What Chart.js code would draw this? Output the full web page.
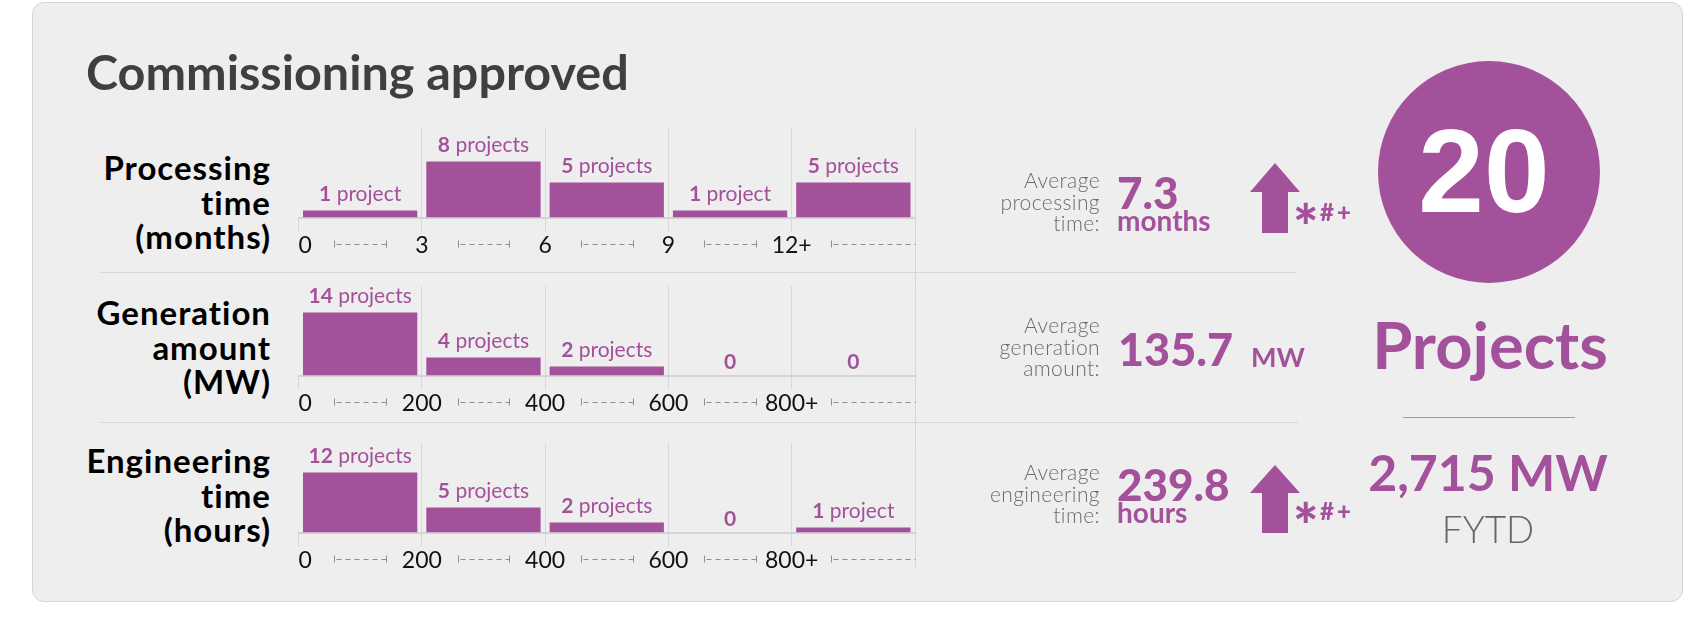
<!DOCTYPE html>
<html>
<head>
<meta charset="utf-8">
<script src="https://cdn.jsdelivr.net/npm/chart.js@4.4.1/dist/chart.umd.min.js"></script>
<style>
  html, body { margin: 0; padding: 0; background: #fff; }
  body { width: 1689px; height: 619px; position: relative; overflow: hidden; font-family: Lato, 'Noto Sans', sans-serif; }
  .panel { position: absolute; left: 32px; top: 2px; width: 1649px; height: 598px; background: #eeeeee; border: 1px solid #d4d4d4; border-radius: 12px; }
  .t { position: absolute; white-space: nowrap; line-height: 1; }
  .purple { color: #a4519b; }
  .title { left: 86px; top: 47px; font-size: 48.5px; font-weight: 700; color: #3f3f3f; }
  .rowlabel { position: absolute; right: 1418px; width: 230px; text-align: right; font-size: 33px; font-weight: 700; letter-spacing: 1px; line-height: 34.5px; color: #000; }
  .statlabel { position: absolute; right: 589px; width: 200px; text-align: right; font-size: 21px; font-weight: 300; letter-spacing: 0.4px; line-height: 21.5px; color: #6b6b6b; }
  .big { font-weight: 900; }
  .sep { position: absolute; height: 1px; background: #d3d8da; }
  .vline { position: absolute; left: 915px; top: 128px; width: 1px; height: 439px; background: #d6d6d6; }
  canvas { position: absolute; left: 290px; }
  .circle { position: absolute; left: 1378px; top: 61px; width: 222px; height: 222px; border-radius: 50%; background: #a4519b; }
  .center { text-align: center; width: 300px; }
  .ast { font-weight: 900; font-size: 60px; }
  .marks { font-weight: 900; font-size: 24px; letter-spacing: 3px; }
</style>
</head>
<body>
<div class="panel"></div>
<div class="t title">Commissioning approved</div>

<div class="sep" style="left:100px; top:272px; width:1196px;"></div>
<div class="sep" style="left:100px; top:422px; width:1198px;"></div>
<div class="vline"></div>

<div class="rowlabel" style="top:150px;">Processing<br>time<br>(months)</div>
<div class="rowlabel" style="top:295px;">Generation<br>amount<br>(MW)</div>
<div class="rowlabel" style="top:443px;">Engineering<br>time<br>(hours)</div>

<canvas id="chartProcessing" width="640" height="160" style="top:108px;"></canvas>
<canvas id="chartGeneration" width="640" height="160" style="top:266px;"></canvas>
<canvas id="chartEngineering" width="640" height="160" style="top:423px;"></canvas>

<div class="statlabel" style="top:169px;">Average<br>processing<br>time:</div>
<div class="t purple big" style="left:1117px; top:170px; font-size:44px;">7.3</div>
<div class="t purple" style="left:1117px; top:206px; font-size:28px; font-weight:700;">months</div>

<div class="statlabel" style="top:314px;">Average<br>generation<br>amount:</div>
<div class="t purple big" style="left:1118px; top:327px; font-size:45px;">135.7</div>
<div class="t purple" style="left:1251px; top:343px; font-size:27px; font-weight:700;">MW</div>

<div class="statlabel" style="top:461px;">Average<br>engineering<br>time:</div>
<div class="t purple big" style="left:1117px; top:462px; font-size:44px;">239.8</div>
<div class="t purple" style="left:1117px; top:498px; font-size:28px; font-weight:700;">hours</div>

<svg style="position:absolute; left:0; top:0;" width="1689" height="619">
  <polygon fill="#a4519b" points="1275,163 1300,192 1288,192 1288,233 1262,233 1262,192 1250,192"/>
  <polygon fill="#a4519b" points="1275,465 1300,493 1288,493 1288,533 1262,533 1262,493 1250,493"/>
</svg>
<div class="t purple ast" style="left:1293px; top:196px;">*</div>
<div class="t purple marks" style="left:1320px; top:200px;">#+</div>
<div class="t purple ast" style="left:1293px; top:495px;">*</div>
<div class="t purple marks" style="left:1320px; top:499px;">#+</div>

<div class="circle"></div>
<div class="t center" style="left:1334px; top:112px; font-family:'Liberation Sans', Arial, sans-serif; font-size:118px; font-weight:700; color:#fff;">20</div>
<div class="t center purple" style="left:1340px; top:312px; font-size:65px; font-weight:700;">Projects</div>
<div class="sep" style="left:1403px; top:417px; width:172px; background:#9c9c9c;"></div>
<div class="t center purple" style="left:1338px; top:447px; font-size:50px; font-weight:700;">2,715 MW</div>
<div class="t center" style="left:1338px; top:510px; font-size:37px; font-weight:300; color:#666;">FYTD</div>

<script>
// bin edges shown under each histogram
const processingTicks = ['0', '3', '6', '9', '12+'];
const amountTicks = ['0', '200', '400', '600', '800+'];
const hoursTicks = ['0', '200', '400', '600', '800+'];

// projects per bin
const processingCounts = [1, 8, 5, 1, 5];
const generationCounts = [14, 4, 2, 0, 0];
const engineeringCounts = [12, 5, 2, 0, 1];

// top of each row's y range (projects)
const rowMax = [12.8, 19.9, 17.9];

const PURPLE = '#a4519b';
const GRID = '#d8d8d8';

const barLabels = {
  id: 'barLabels',
  afterDatasetsDraw(chart) {
    const { ctx } = chart;
    const meta = chart.getDatasetMeta(0);
    const points = chart.data.datasets[0].data;
    ctx.save();
    ctx.fillStyle = PURPLE;
    ctx.textAlign = 'left';
    ctx.textBaseline = 'alphabetic';
    meta.data.forEach((bar, i) => {
      const v = points[i].y;
      const num = String(v);
      const word = v === 0 ? '' : (v === 1 ? ' project' : ' projects');
      ctx.font = '700 21px Lato';
      const w1 = ctx.measureText(num).width;
      ctx.font = '400 21px Lato';
      const w2 = ctx.measureText(word).width;
      const x = bar.x - (w1 + w2) / 2;
      const y = bar.y - (v === 0 ? 7 : 10);
      ctx.font = '700 21px Lato';
      ctx.fillText(num, x, y);
      ctx.font = '400 21px Lato';
      ctx.fillText(word, x + w1, y);
    });
    ctx.restore();
  },
};

// little |- - - -| range markers between the bin labels
const rangeMarks = {
  id: 'rangeMarks',
  afterDraw(chart) {
    const { ctx } = chart;
    const xs = chart.scales.x;
    const y = chart.chartArea.bottom + 26.5;
    ctx.save();
    ctx.strokeStyle = '#8f8f8f';
    ctx.lineWidth = 1;
    for (let i = 0; i < 5; i++) {
      const last = i === 4;
      const x0 = Math.round(xs.getPixelForValue(i + (last ? 0.32 : 0.29))) + 0.5;
      const x1 = Math.round(xs.getPixelForValue(i + (last ? 1 : 0.71))) + 0.5;
      ctx.setLineDash([]);
      ctx.beginPath();
      ctx.moveTo(x0, y - 3.5);
      ctx.lineTo(x0, y + 3.5);
      if (!last) {
        ctx.moveTo(x1, y - 3.5);
        ctx.lineTo(x1, y + 3.5);
      }
      ctx.stroke();
      ctx.setLineDash([5, 4]);
      ctx.beginPath();
      ctx.moveTo(x0 + 2, Math.round(y) + 0.5);
      ctx.lineTo(x1, Math.round(y) + 0.5);
      ctx.stroke();
    }
    ctx.restore();
  },
};

function renderHistogram(canvasEl, counts, tickLabels, yMax) {
  return new Chart(canvasEl, {
    type: 'bar',
    data: {
      datasets: [
        {
          data: counts.map((v, i) => ({ x: i + 0.5, y: v })),
          backgroundColor: PURPLE,
          categoryPercentage: 1,
          barPercentage: 0.927,
        },
      ],
    },
    options: {
      responsive: false,
      animation: false,
      devicePixelRatio: 1,
      layout: { padding: { left: 8.5, right: 15, top: 20, bottom: 8.9 } },
      plugins: {
        legend: { display: false },
        tooltip: { enabled: false },
      },
      scales: {
        x: {
          type: 'linear',
          min: 0,
          max: 5,
          offset: false,
          grid: {
            offset: false,
            color: c => (c.index === 0 ? 'rgba(0,0,0,0)' : GRID),
            tickColor: GRID,
            tickLength: 14,
            lineWidth: 1,
          },
          border: { color: '#d4d4d4', width: 2 },
          ticks: {
            stepSize: 1,
            autoSkip: false,
            maxRotation: 0,
            align: 'inner',
            padding: 0,
            color: '#111',
            font: { family: 'Lato', size: 23 },
            callback: v => tickLabels[v] ?? '',
          },
        },
        y: { display: false, min: 0, max: yMax },
      },
    },
    plugins: [barLabels, rangeMarks],
  });
}

renderHistogram(document.getElementById('chartProcessing'), processingCounts, processingTicks, rowMax[0]);
renderHistogram(document.getElementById('chartGeneration'), generationCounts, amountTicks, rowMax[1]);
renderHistogram(document.getElementById('chartEngineering'), engineeringCounts, hoursTicks, rowMax[2]);
</script>
</body>
</html>
